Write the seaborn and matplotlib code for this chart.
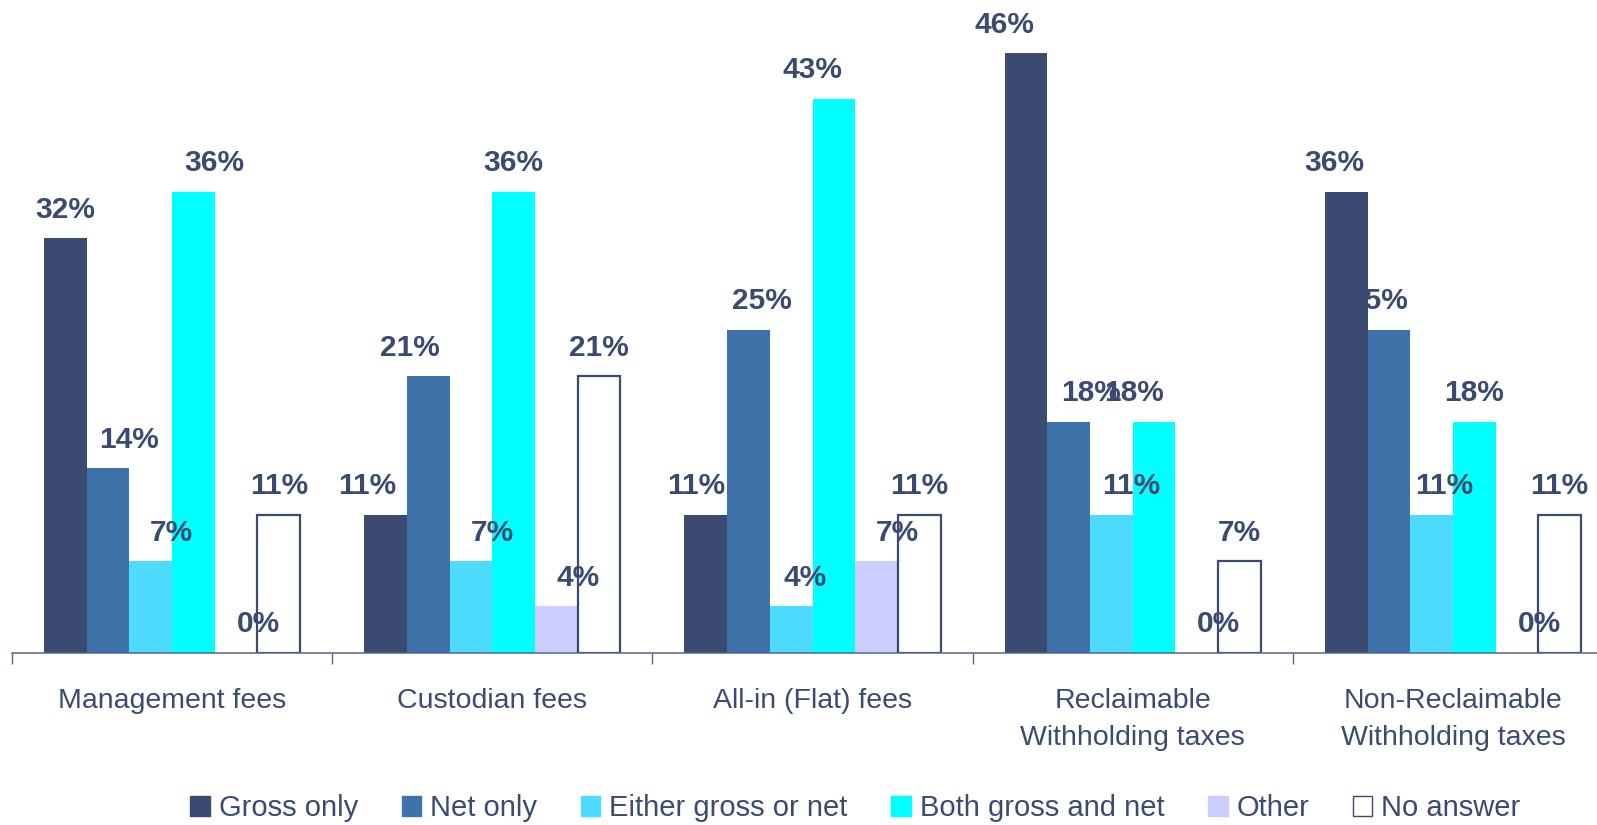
import pandas as pd
import matplotlib
matplotlib.use('Agg')
import matplotlib.pyplot as plt
from matplotlib.patches import Patch
import seaborn as sns

# Dados (percentual de respondentes)
categories = ['Management fees', 'Custodian fees', 'All-in (Flat) fees',
              'Reclaimable\nWithholding taxes', 'Non-Reclaimable\nWithholding taxes']
series = ['Gross only', 'Net only', 'Either gross or net', 'Both gross and net', 'Other', 'No answer']
gross_only = [32.1, 10.7, 10.7, 46.4, 35.7]
net_only = [14.3, 21.4, 25.0, 17.9, 25.0]
either = [7.1, 7.1, 3.6, 10.7, 10.7]
both = [35.7, 35.7, 42.9, 17.9, 17.9]
other = [0.0, 3.6, 7.1, 0.0, 0.0]
no_answer = [10.7, 21.4, 10.7, 7.1, 10.7]

colors = ['#3A4A71', '#4072AA', '#4DDBFF', '#00FFFF', '#CCCCFF', '#FFFFFF']
navy = '#3A4A71'

# deslocamento horizontal dos rótulos (px), como no original
label_nudge = [
    [0, -18, -10, -22, -12],
    [21, -18, 13, 22, -11],
    [21, 21, 14, 20, 13],
    [21, 0, -21, -20, 0],
    [22, 22, 21, 22, 22],
    [0, 0, 0, 0, 0],
]

all_vals = [gross_only, net_only, either, both, other, no_answer]
rows = []
for s, vals in zip(series, all_vals):
    for c, v in zip(categories, vals):
        rows.append({'category': c, 'series': s, 'value': v})
df = pd.DataFrame(rows)

sns.set_theme(style='white')
plt.rcParams['font.family'] = ['Liberation Sans', 'DejaVu Sans']

W, H = 1597, 825
fig = plt.figure(figsize=(W / 100, H / 100), dpi=100)
ax = fig.add_axes([12 / W, 172 / H, 1601 / W, 650 / H])

sns.barplot(data=df, x='category', y='value', hue='series', order=categories,
            hue_order=series, palette=colors, saturation=1, width=0.8,
            linewidth=0, legend=False, ax=ax)

# No answer: barra vazada com contorno
for bar in ax.containers[5]:
    bar.set_facecolor('white')
    bar.set_edgecolor(navy)
    bar.set_linewidth(1.6)

for i, cont in enumerate(ax.containers):
    for j, bar in enumerate(cont):
        v = all_vals[i][j]
        ax.annotate(f'{v:.0f}%', (bar.get_x() + bar.get_width() / 2, bar.get_height()),
                    xytext=(label_nudge[i][j] * 0.72, 14.8), textcoords='offset points',
                    ha='center', va='baseline', fontsize=21.5, fontweight='bold',
                    color=navy, annotation_clip=False)

ax.set_xlim(-0.5, 4.5)
ax.set_ylim(0, 50.3)
ax.set_xlabel('')
ax.set_ylabel('')
ax.set_yticks([])
for side in ['top', 'right', 'left']:
    ax.spines[side].set_visible(False)
ax.spines['bottom'].set_color('#56658C')
ax.spines['bottom'].set_linewidth(1.1)

ax.set_xticks(range(len(categories)))
ax.set_xticklabels(categories, fontsize=20.5, color=navy, linespacing=1.55)
ax.set_xticks([k - 0.5 for k in range(len(categories) + 1)], minor=True)
ax.tick_params(axis='x', which='major', length=0, pad=25)
ax.tick_params(axis='x', which='minor', bottom=True, length=8, width=1,
               color='#56658C', direction='out')

handles = [Patch(facecolor=c, edgecolor=(navy if s == 'No answer' else c), linewidth=1)
           for c, s in zip(colors, series)]
fig.legend(handles, series, loc='center', bbox_to_anchor=(855.5 / W, 17 / H), ncol=6,
           frameon=False, fontsize=21, handlelength=0.68, handleheight=0.68,
           handletextpad=0.31, columnspacing=1.48, borderpad=0, labelcolor=navy)

fig.savefig('out.png', dpi=100)
